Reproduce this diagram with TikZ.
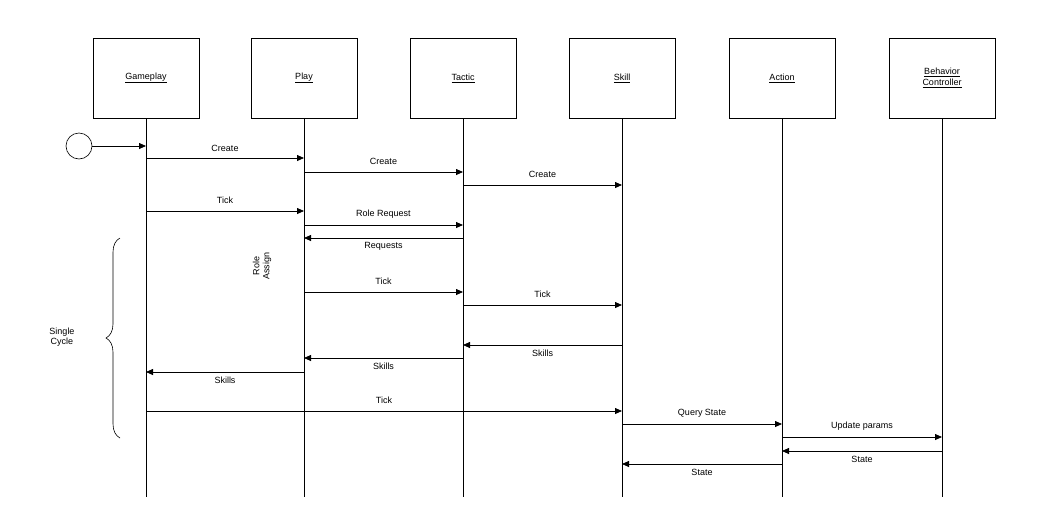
\documentclass[tikz,border=0pt]{standalone}
\usepackage{fontspec}
\setmainfont{Liberation Sans}
\usetikzlibrary{arrows.meta,decorations.pathreplacing}
\begin{document}
\begin{tikzpicture}[x=1pt,y=-1pt,
  obj/.style={draw,minimum width=106pt,minimum height=80pt,font=\fontsize{9}{11}\selectfont,align=center},
  msg/.style={-{Triangle[length=7pt,width=6pt]},line width=0.8pt},
  lab/.style={font=\fontsize{9}{10}\selectfont,inner sep=1pt},
  life/.style={line width=0.6pt}]
\useasboundingbox (0,0) rectangle (1037,515);
\foreach \n/\x/\t in {g/146/Gameplay,p/304/Play,t/463/Tactic,s/622/Skill,a/782/Action}{
  \node[obj] (\n) at (\x,78) {\underline{\t}};
  \coordinate (\n e) at (\x,497);
  \draw[life] (\n.south) -- (\n e);
}
\node[obj] (b) at (942,78) {\underline{Behavior}\\\underline{Controller}};
\coordinate (be) at (942,497);
\draw[life] (b.south) -- (be);
\node[draw,circle,minimum size=26pt,inner sep=0pt,line width=0.6pt] (st) at (79,146) {};
\coordinate (g0) at (146,146);
\draw[msg] (st) -- (g0);
% helper
\newcommand\msgarrow[5]{% from x, to x, y, label, label y
  \coordinate (f) at (#1,#3); \coordinate (tt) at (#2,#3);
  \draw[msg] (f) -- (tt);
  \node[lab] at ({(#1+#2)/2},#5) {#4};}
\msgarrow{146}{304}{158}{Create}{148}
\msgarrow{304}{463}{172}{Create}{161}
\msgarrow{463}{622}{185}{Create}{174}
\msgarrow{146}{304}{211}{Tick}{200}
\msgarrow{304}{463}{225}{Role Request}{214}
\msgarrow{463}{304}{238}{Requests}{246}
\msgarrow{304}{463}{292}{Tick}{281}
\msgarrow{463}{622}{305}{Tick}{294}
\msgarrow{622}{463}{345}{Skills}{353}
\msgarrow{463}{304}{358}{Skills}{366}
\msgarrow{304}{146}{372}{Skills}{380}
\msgarrow{146}{622}{411}{Tick}{400}
\msgarrow{622}{782}{424}{Query State}{413}
\msgarrow{782}{942}{437}{Update params}{426}
\msgarrow{942}{782}{451}{State}{459}
\msgarrow{782}{622}{464}{State}{472}
\node[lab,rotate=90,align=center] (ra) at (262,266) {Role\\Assign};
\coordinate (b1) at (120,438); \coordinate (b2) at (120,238);
\draw[decorate,decoration={brace,amplitude=14pt},line width=0.6pt] (b1) -- (b2);
\node[lab,align=center] (sc) at (62,337) {Single\\Cycle};
\end{tikzpicture}
\end{document}
